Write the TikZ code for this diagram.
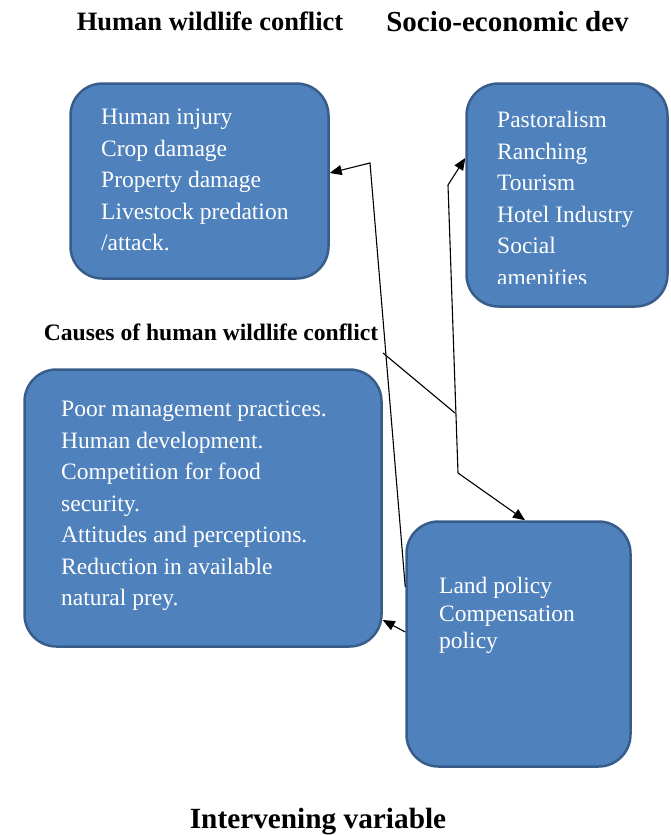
\documentclass[tikz,border=0pt]{standalone}
\usepackage{fontspec}
\IfFontExistsTF{LiberationSerif-Regular.ttf}
  {\setmainfont{LiberationSerif}[Extension=.ttf,UprightFont=*-Regular,BoldFont=*-Bold,ItalicFont=*-Italic,BoldItalicFont=*-BoldItalic]}
  {\IfFontExistsTF{Liberation Serif}{\setmainfont{Liberation Serif}}{\setmainfont{DejaVu Serif}}}
\usetikzlibrary{arrows.meta}
\definecolor{boxfill}{HTML}{4F81BD}
\definecolor{boxedge}{HTML}{385D8A}
\begin{document}
\begin{tikzpicture}[x=1pt,y=-1pt,
  box/.style={draw=boxedge, fill=boxfill, line width=2.5pt, rounded corners=32pt, rectangle, inner sep=0pt},
  boxtext/.style={anchor=north west, inner sep=0pt, text=white, align=left, font=\fontsize{23.5}{31.5}\selectfont},
  titletext/.style={anchor=base, inner sep=0pt, font=\bfseries\fontsize{#1}{#1}\selectfont},
  link/.style={draw=black, line width=1.1pt},
  arr/.style={link, -{Triangle[length=12pt,width=10pt]}}]
\useasboundingbox (0,0) rectangle (671,835);

% titles
\node[titletext=26.5] (t1) at (210,30) {Human wildlife conflict};
\node[titletext=29] (t2) at (507.5,31) {Socio-economic dev};
\node[titletext=23.6] (t3) at (211,340) {Causes of human wildlife conflict};
\node[titletext=29.3] (t4) at (318,828) {Intervening variable};

% boxes
\node[box, minimum width=258pt, minimum height=195pt] (hwc) at (199.5,181) {};
\node[box, minimum width=201pt, minimum height=223pt] (sed) at (567,195) {};
\node[box, minimum width=357pt, minimum height=277pt] (cau) at (203,508) {};
\node[box, minimum width=224pt, minimum height=245pt] (pol) at (518.5,644) {};

% box texts
\node[boxtext] (hwctext) at (101,109) {Human injury\\Crop damage\\Property damage\\Livestock predation\\/attack.};
\begin{scope}
\clip (460,80) rectangle (669,283);
\node[boxtext] (sedtext) at (497,111) {Pastoralism\\Ranching\\Tourism\\Hotel Industry\\Social\\amenities};
\end{scope}
\node[boxtext] (cautext) at (61,401) {Poor management practices.\\Human development.\\Competition for food\\security.\\Attitudes and perceptions.\\Reduction in available\\natural prey.};
\node[boxtext, font=\fontsize{23.5}{27.5}\selectfont] (poltext) at (439,577) {Land policy\\Compensation\\policy};

% junction coordinates
\coordinate (j1) at (370,163);
\coordinate (j2) at (448,185);
\coordinate (j3) at (458,473);
\coordinate (j4) at (455,413);
\coordinate (c0) at (383,353);

% connectors
\draw[arr] ([yshift=57pt]pol.west) -- (j1) -- ([yshift=8pt]hwc.east);
\draw[arr] (j3) -- (j2) -- ([yshift=37pt]sed.west);
\draw[arr] (j3) -- ([xshift=6.5pt]pol.north);
\draw[link] (c0) -- (j4);
\draw[arr] ([yshift=12pt]pol.west) -- ([yshift=-112pt]cau.east);
\end{tikzpicture}
\end{document}
